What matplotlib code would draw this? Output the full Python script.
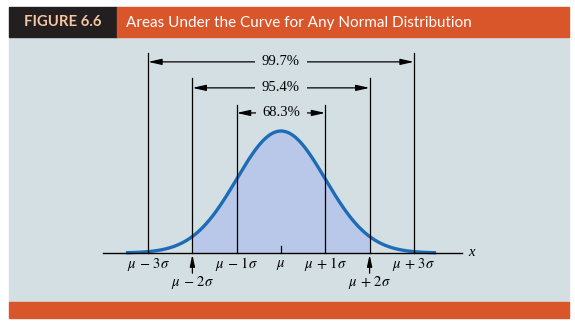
import numpy as np
import matplotlib.pyplot as plt
from matplotlib.patches import Rectangle

plt.rcParams['mathtext.fontset'] = 'stix'

# data
mu = 0.0
sigma = 1.0
k_levels = [1, 2, 3]
pct_labels = ['68.3%', '95.4%', '99.7%']
arrow_y = [0.458, 0.540, 0.625]     # height of each bracket arrow
line_top = [0.484, 0.572, 0.654]    # top of the vertical lines
tick_labels = {-3: r'$\mu\,-\,3\sigma$', -2: r'$\mu\,-\,2\sigma$', -1: r'$\mu\,-\,1\sigma$',
               0: r'$\mu$', 1: r'$\mu\,+\,1\sigma$', 2: r'$\mu\,+\,2\sigma$', 3: r'$\mu\,+\,3\sigma$'}

x = np.linspace(mu - 3.5 * sigma, mu + 3.5 * sigma, 400)
pdf = np.exp(-0.5 * ((x - mu) / sigma) ** 2) / (sigma * np.sqrt(2 * np.pi))

panel_c = '#d4dfe3'
orange = '#d9552a'
dark = '#231f20'
fill_c = '#b9c8e8'
curve_c = '#1d6cb5'

fig = plt.figure(figsize=(5.75, 3.27), dpi=100)
W, H = 575, 327

def frect(x0, y0, x1, y1, c):
    # rectangle in pixel coords from the top-left corner
    fig.patches.append(Rectangle((x0 / W, 1 - y1 / H), (x1 - x0) / W, (y1 - y0) / H,
                                 transform=fig.transFigure, color=c, zorder=0))

frect(9, 37, 569, 302, panel_c)
frect(9, 7, 117, 37, dark)
frect(117, 7, 569, 37, orange)
frect(9, 302, 569, 318, orange)
fig.text(24 / W, 1 - 22.5 / H, 'FIGURE 6.6', color='#f4c6a2', fontsize=10.7, fontweight='bold',
         family='Lato', va='center', ha='left')
fig.text(126 / W, 1 - 22.5 / H, 'Areas Under the Curve for Any Normal Distribution',
         color='white', fontsize=11, family='Lato', va='center', ha='left')

ax = fig.add_axes([0, 0, 1, 1])
ax.set_zorder(2)
ax.set_facecolor('none')
ax.axis('off')
px = 44.3    # pixels per sigma
py = 305.8   # pixels per density unit
ax.set_xlim(-281 / px, (W - 281) / px)
ax.set_ylim(-(H - 253) / py, 253 / py)

# shaded area between mu-2sigma and mu+2sigma
m = (x >= mu - 2 * sigma) & (x <= mu + 2 * sigma)
ax.fill_between(x[m], 0, pdf[m], color=fill_c, lw=0, zorder=1)
ax.plot(x, pdf, color=curve_c, lw=2.4, zorder=3, solid_capstyle='butt')

# x axis
ax.plot([mu - 4.02 * sigma, mu + 4.09 * sigma], [0, 0], color='black', lw=1.0, zorder=4)
ax.text(mu + 4.3 * sigma, 0.003, 'x', family='Liberation Serif', style='italic',
        fontsize=10.5, ha='center', va='center')
ax.plot([mu, mu], [0, 0.022], color='black', lw=0.9, zorder=4)

for k, lab, ay, top in zip(k_levels, pct_labels, arrow_y, line_top):
    for s in (-1, 1):
        ax.plot([mu + s * k * sigma] * 2, [0, top], color='black', lw=0.9, zorder=4)
    ax.annotate('', xy=(mu - k * sigma, ay), xytext=(mu + k * sigma, ay),
                arrowprops=dict(arrowstyle='<|-|>,head_length=0.8,head_width=0.18',
                                color='black', lw=0.9, shrinkA=0, shrinkB=0), zorder=5)
    ax.text(mu, ay, lab, family='Liberation Serif', fontsize=10.5, ha='center', va='center',
            zorder=6, bbox=dict(boxstyle='square,pad=0.45', fc=panel_c, ec='none'))

for k, lab in tick_labels.items():
    if abs(k) == 2:
        ax.text(mu + k * sigma, -0.098, lab, fontsize=10.5, ha='center', va='center')
        ax.annotate('', xy=(mu + k * sigma, -0.005), xytext=(mu + k * sigma, -0.066),
                    arrowprops=dict(arrowstyle='-|>,head_length=0.7,head_width=0.15',
                                    color='black', lw=0.9, shrinkA=0, shrinkB=0))
    else:
        ax.text(mu + k * sigma, -0.037, lab, fontsize=10.5, ha='center', va='center')

fig.savefig('out.png', dpi=100, facecolor='white')
